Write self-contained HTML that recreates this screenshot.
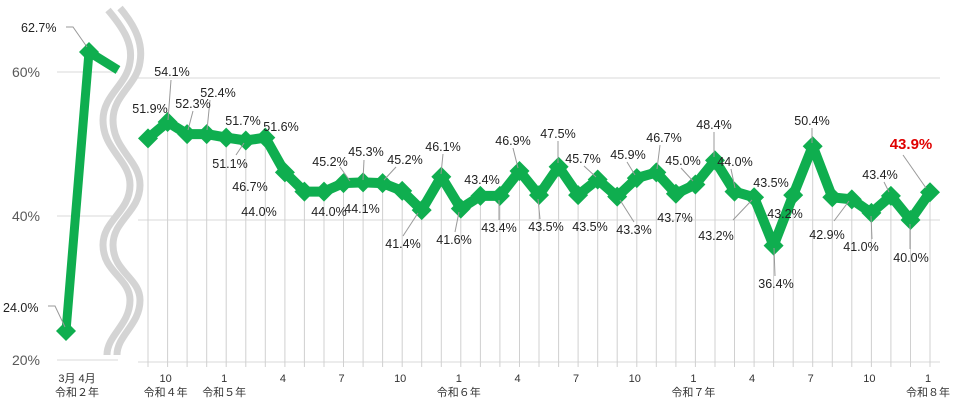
<!DOCTYPE html>
<html><head><meta charset="utf-8"><style>
html,body{margin:0;padding:0;background:#fff;}
svg{display:block;font-family:"Liberation Sans","Noto Sans CJK JP",sans-serif;}
</style></head><body>
<svg width="965" height="403" viewBox="0 0 965 403" xmlns="http://www.w3.org/2000/svg">
<defs>
<marker id="dm" markerUnits="userSpaceOnUse" markerWidth="22" markerHeight="22" refX="11" refY="11" viewBox="0 0 22 22">
<polygon points="11,1 21,11 11,21 1,11" fill="#0fae4f"/>
</marker>
</defs>
<g stroke="#d9d9d9" stroke-width="1">
<line x1="57" y1="72" x2="118" y2="72"/><line x1="57" y1="216" x2="118" y2="216"/><line x1="57" y1="360" x2="118" y2="360"/>
<line x1="138" y1="78" x2="940" y2="78"/><line x1="138" y1="220" x2="940" y2="220"/><line x1="138" y1="362" x2="940" y2="362"/>
</g>
<path stroke="#d0d0d0" stroke-width="1" fill="none" d="M148,138V367 M167.6,122V367 M187.1,134V367 M206.7,134V367 M226.2,137V367 M245.8,140V367 M265.3,137V367 M284.9,172V367 M304.4,191V367 M324,191V367 M343.5,183V367 M363.1,182V367 M382.6,183V367 M402.2,191V367 M421.7,210V367 M441.3,176V367 M460.8,208V367 M480.4,196V367 M499.9,196V367 M519.5,171V367 M539,195V367 M558.6,166V367 M578.1,195V367 M597.7,179V367 M617.2,196V367 M636.8,178V367 M656.3,172V367 M675.9,193V367 M695.4,184V367 M715,160V367 M734.5,191V367 M754.1,197V367 M773.6,245V367 M793.2,195V367 M812.7,146V367 M832.3,197V367 M851.8,199V367 M871.4,213V367 M890.9,196V367 M910.5,220V367 M930,192V367"/>
<g fill="none" stroke="#d4d4d4" stroke-width="7">
<path d="M108,10 C125,30 133,45 130,62 C127,85 103,95 103,120 C103,150 130,160 130,185 C130,212 103,220 103,245 C103,272 130,278 130,300 C130,325 107,335 107,355"/>
<path d="M120,8 C137,28 143,45 140,62 C137,85 113,95 113,120 C113,150 140,160 140,185 C140,212 113,220 113,245 C113,272 140,278 140,300 C140,325 117,335 117,355"/>
</g>
<polyline points="66,331 89,52 118,70" fill="none" stroke="#0fae4f" stroke-width="9"/>
<polygon points="66,321 76,331 66,341 56,331" fill="#0fae4f"/>
<polygon points="89,42 99,52 89,62 79,52" fill="#0fae4f"/>
<polyline fill="none" stroke="#0fae4f" stroke-width="10" stroke-linejoin="round" marker-start="url(#dm)" marker-mid="url(#dm)" marker-end="url(#dm)" points="148,138.4 167.6,122 187.1,134.1 206.7,134.1 226.2,137.6 245.8,140.5 265.3,137.6 284.9,172.4 304.4,191.6 324,191.6 343.5,183.1 363.1,182.4 382.6,183.1 402.2,190.9 421.7,210.1 441.3,176.7 460.8,208.6 480.4,195.9 499.9,195.9 519.5,171 539,195.1 558.6,166.7 578.1,195.1 597.7,179.5 617.2,196.6 636.8,178.1 656.3,172.4 675.9,193.7 695.4,184.5 715,160.4 734.5,191.6 754.1,197.3 773.6,245.6 793.2,195.1 812.7,146.2 832.3,197.3 851.8,199.4 871.4,212.9 890.9,195.9 910.5,220 930,192.3"/>
<g stroke="#999" stroke-width="1" fill="none">
<polyline points="66,27 73,27 87,47"/><polyline points="48,306 55,306 65,327"/>
<line x1="171" y1="80" x2="168" y2="120"/><line x1="193" y1="111" x2="188" y2="130"/><line x1="210" y1="100" x2="207" y2="130"/>
<line x1="236" y1="155" x2="244" y2="143"/><line x1="340" y1="167" x2="350" y2="181"/><line x1="364" y1="160" x2="363" y2="180"/>
<line x1="396" y1="167" x2="384" y2="180"/><line x1="403" y1="236" x2="418" y2="213"/><line x1="443" y1="154" x2="441" y2="174"/>
<line x1="455" y1="232" x2="459" y2="212"/><line x1="499" y1="220" x2="499" y2="200"/><line x1="513" y1="148" x2="518" y2="168"/>
<line x1="540" y1="219" x2="538" y2="199"/><line x1="558" y1="141" x2="558" y2="163"/><line x1="584" y1="166" x2="596" y2="177"/>
<line x1="634" y1="222" x2="620" y2="200"/><line x1="627" y1="162" x2="635" y2="175"/><line x1="660" y1="145" x2="657" y2="169"/>
<line x1="681" y1="168" x2="693" y2="181"/><line x1="714" y1="132" x2="714" y2="157"/><line x1="731" y1="169" x2="735" y2="188"/>
<line x1="733" y1="220" x2="752" y2="200"/><line x1="775" y1="276" x2="774" y2="248"/><line x1="812" y1="128" x2="812" y2="143"/>
<line x1="834" y1="221" x2="849" y2="201"/><line x1="872" y1="239" x2="871" y2="216"/><line x1="884" y1="182" x2="889" y2="192"/>
<line x1="910" y1="249" x2="910" y2="224"/><line x1="903" y1="155" x2="926" y2="188"/>
</g>
<g fill="#595959" font-size="14">
<text x="40" y="77" text-anchor="end">60%</text>
<text x="40" y="221" text-anchor="end">40%</text>
<text x="40" y="365" text-anchor="end">20%</text>
</g>
<g fill="#222" font-size="12.5">
<text x="21" y="32">62.7%</text><text x="3" y="312">24.0%</text>
</g>
<g fill="#222" font-size="12.5" text-anchor="middle">
<text x="150" y="113">51.9%</text><text x="172" y="76">54.1%</text><text x="193" y="108">52.3%</text><text x="218" y="97">52.4%</text>
<text x="243" y="125">51.7%</text><text x="230" y="168">51.1%</text><text x="250" y="191">46.7%</text><text x="281" y="131">51.6%</text>
<text x="259" y="216">44.0%</text><text x="330" y="166">45.2%</text><text x="329" y="216">44.0%</text><text x="366" y="156">45.3%</text>
<text x="405" y="164">45.2%</text><text x="362" y="213">44.1%</text><text x="403" y="248">41.4%</text><text x="443" y="151">46.1%</text>
<text x="454" y="244">41.6%</text><text x="482" y="184">43.4%</text><text x="499" y="232">43.4%</text><text x="513" y="145">46.9%</text>
<text x="546" y="231">43.5%</text><text x="558" y="138">47.5%</text><text x="583" y="163">45.7%</text><text x="590" y="231">43.5%</text>
<text x="628" y="159">45.9%</text><text x="634" y="234">43.3%</text><text x="664" y="142">46.7%</text><text x="683" y="165">45.0%</text>
<text x="675" y="222">43.7%</text><text x="714" y="129">48.4%</text><text x="735" y="166">44.0%</text><text x="716" y="240">43.2%</text>
<text x="771" y="187">43.5%</text><text x="776" y="288">36.4%</text><text x="785" y="218">43.2%</text><text x="812" y="125">50.4%</text>
<text x="827" y="239">42.9%</text><text x="861" y="251">41.0%</text><text x="880" y="179">43.4%</text><text x="911" y="262">40.0%</text>
</g>
<g fill="#333" font-size="11" text-anchor="middle">
<text x="77" y="382">3月 4月</text><text x="77" y="396">令和２年</text>
<text x="165.6" y="382">10</text><text x="224.2" y="382">1</text><text x="282.9" y="382">4</text><text x="341.5" y="382">7</text>
<text x="400.2" y="382">10</text><text x="458.8" y="382">1</text><text x="517.5" y="382">4</text><text x="576.1" y="382">7</text>
<text x="634.8" y="382">10</text><text x="693.4" y="382">1</text><text x="752.1" y="382">4</text><text x="810.7" y="382">7</text>
<text x="869.4" y="382">10</text><text x="928" y="382">1</text>
<text x="165.6" y="396">令和４年</text><text x="224.2" y="396">令和５年</text><text x="458.8" y="396">令和６年</text><text x="693.4" y="396">令和７年</text><text x="928" y="396">令和８年</text>
</g>
<text x="911" y="149" fill="#e00000" font-size="15" font-weight="bold" text-anchor="middle">43.9%</text>
</svg>
</body></html>
